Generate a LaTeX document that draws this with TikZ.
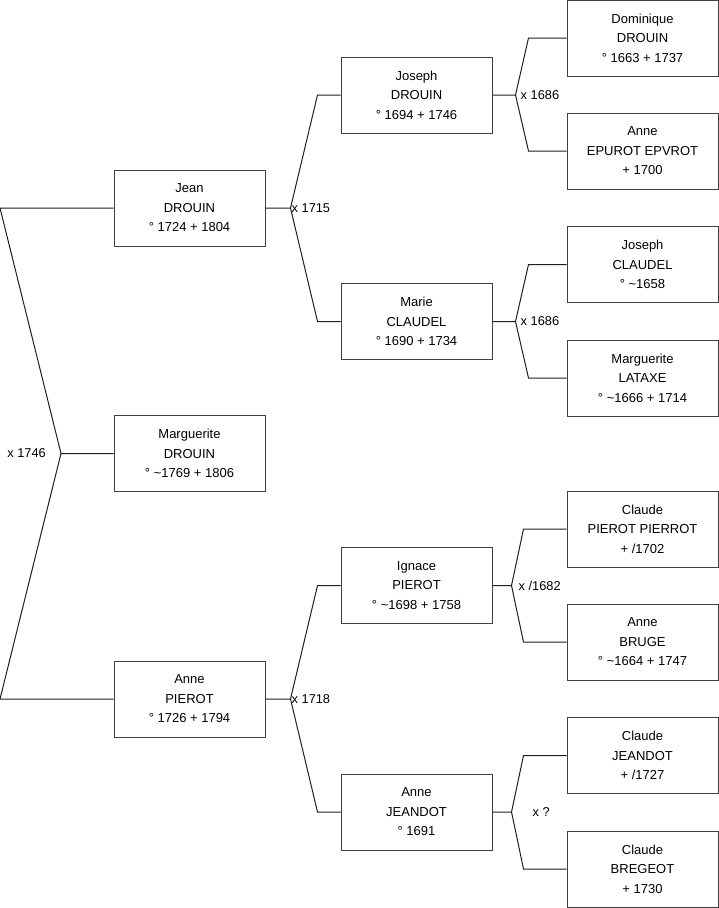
\documentclass[tikz,border=0pt]{standalone}
\usepackage{fontspec}
\setmainfont{Liberation Sans}
\usepackage{xcolor}
\definecolor{boxline}{RGB}{64,64,64}
\definecolor{linkline}{RGB}{30,30,30}
\usetikzlibrary{positioning}
\tikzset{
  person/.style={draw=boxline, line width=1pt, minimum width=151pt, minimum height=76pt,
    inner sep=0pt, align=center, font=\fontsize{13}{19.5}\selectfont},
  link/.style={draw=linkline, line width=1pt},
  union/.style={font=\fontsize{12.8}{15}\selectfont, inner sep=1pt, anchor=west},
}

\begin{document}
\begin{tikzpicture}[x=1pt, y=-1pt]
  \useasboundingbox (0,0) rectangle (719,908);
  % Generation 1
  \node[person] (jean) at (189.5,208) {Jean\\DROUIN\\° 1724 + 1804};
  \node[person] (marg) at (189.5,453.5) {Marguerite\\DROUIN\\° \textasciitilde1769 + 1806};
  \node[person] (annep) at (189.5,699) {Anne\\PIEROT\\° 1726 + 1794};
  % Generation 2
  \node[person] (joseph) at (416.5,95) {Joseph\\DROUIN\\° 1694 + 1746};
  \node[person] (marie) at (416.5,321.5) {Marie\\CLAUDEL\\° 1690 + 1734};
  \node[person] (ignace) at (416.5,585.5) {Ignace\\PIEROT\\° \textasciitilde1698 + 1758};
  \node[person] (annej) at (416.5,812) {Anne\\JEANDOT\\° 1691};
  % Generation 3
  \node[person] (dominique) at (642.5,38) {Dominique\\DROUIN\\° 1663 + 1737};
  \node[person] (annee) at (642.5,151) {Anne\\EPUROT EPVROT\\+ 1700};
  \node[person] (josephc) at (642.5,264.5) {Joseph\\CLAUDEL\\° \textasciitilde1658};
  \node[person] (margl) at (642.5,378) {Marguerite\\LATAXE\\° \textasciitilde1666 + 1714};
  \node[person] (claudep) at (642.5,529) {Claude\\PIEROT PIERROT\\+ /1702};
  \node[person] (anneb) at (642.5,642) {Anne\\BRUGE\\° \textasciitilde1664 + 1747};
  \node[person] (claudej) at (642.5,755.5) {Claude\\JEANDOT\\+ /1727};
  \node[person] (claudeb) at (642.5,869) {Claude\\BREGEOT\\+ 1730};

  % Siblings joined on the left
  \coordinate (x0) at (61,453.5);
  \coordinate (top0) at (0,208);
  \coordinate (bot0) at (0,699);
  \draw[link] (jean.west) -- (top0) -- (x0) -- (marg.west);
  \draw[link] (x0) -- (bot0) -- (annep.west);
  \node[union, anchor=east, xshift=-14pt] (u0) at (x0) {x 1746};

  % Parents of Jean
  \coordinate (x1) at ([xshift=25pt]jean.east);
  \draw[link] (jean.east) -- (x1) -- ([xshift=-23pt]joseph.west) -- (joseph.west);
  \draw[link] (x1) -- ([xshift=-23pt]marie.west) -- (marie.west);
  \node[union] (u1) at (x1) {x 1715};

  % Parents of Anne
  \coordinate (x2) at ([xshift=25pt]annep.east);
  \draw[link] (annep.east) -- (x2) -- ([xshift=-23pt]ignace.west) -- (ignace.west);
  \draw[link] (x2) -- ([xshift=-23pt]annej.west) -- (annej.west);
  \node[union] (u2) at (x2) {x 1718};

  % Parents of Joseph
  \coordinate (x3) at ([xshift=23pt]joseph.east);
  \draw[link] (joseph.east) -- (x3) -- ([xshift=-38pt]dominique.west) -- (dominique.west);
  \draw[link] (x3) -- ([xshift=-38pt]annee.west) -- (annee.west);
  \node[union, xshift=4pt] (u3) at (x3) {x 1686};

  % Parents of Marie
  \coordinate (x4) at ([xshift=23pt]marie.east);
  \draw[link] (marie.east) -- (x4) -- ([xshift=-38pt]josephc.west) -- (josephc.west);
  \draw[link] (x4) -- ([xshift=-38pt]margl.west) -- (margl.west);
  \node[union, xshift=4pt] (u4) at (x4) {x 1686};

  % Parents of Ignace
  \coordinate (x5) at ([xshift=19pt]ignace.east);
  \draw[link] (ignace.east) -- (x5) -- ([xshift=-43pt]claudep.west) -- (claudep.west);
  \draw[link] (x5) -- ([xshift=-43pt]anneb.west) -- (anneb.west);
  \node[union, xshift=6pt] (u5) at (x5) {x /1682};

  % Parents of Anne Jeandot
  \coordinate (x6) at ([xshift=19pt]annej.east);
  \draw[link] (annej.east) -- (x6) -- ([xshift=-43pt]claudej.west) -- (claudej.west);
  \draw[link] (x6) -- ([xshift=-43pt]claudeb.west) -- (claudeb.west);
  \node[union, xshift=20pt] (u6) at (x6) {x ?};
\end{tikzpicture}
\end{document}
